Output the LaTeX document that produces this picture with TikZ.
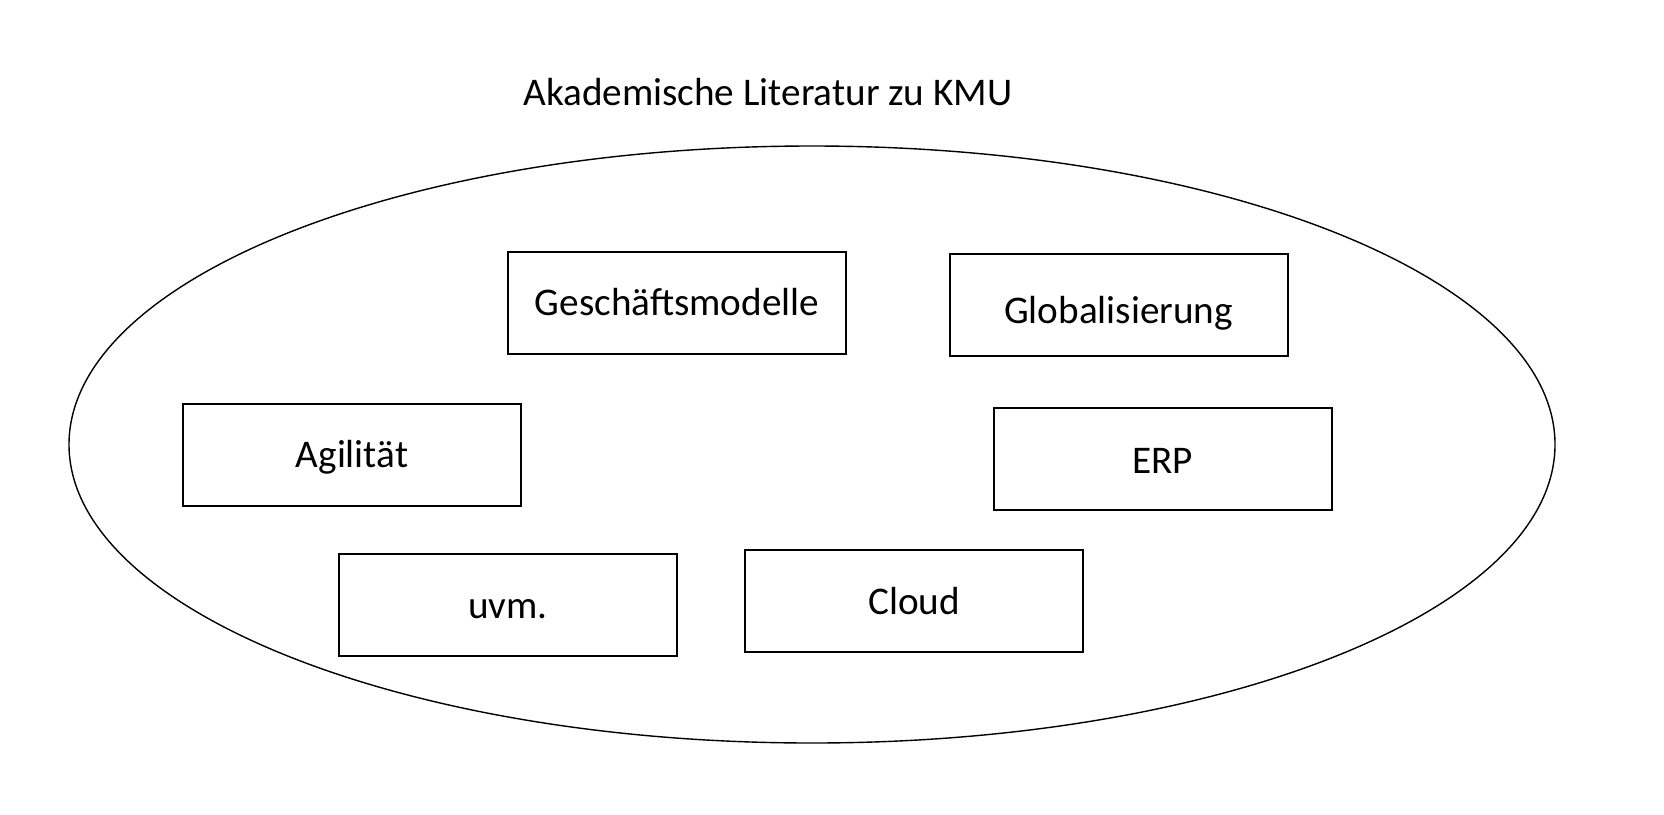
\documentclass[tikz,border=0pt]{standalone}
\usepackage{fontspec}
\setmainfont{Carlito}
\usetikzlibrary{shapes.geometric}
\begin{document}
\begin{tikzpicture}[x=0.5pt,y=-0.5pt,
  txt/.style={font=\fontsize{19.6}{23}\selectfont},
  topic/.style={txt, draw=black, line width=1pt, minimum width=169pt, minimum height=51pt, inner sep=0pt, text height=12.5pt, text depth=0pt},
  lbl/.style={txt, inner sep=0pt}]
\useasboundingbox (0,0) rectangle (1664,814);
\node[draw=black, line width=0.7pt, ellipse, minimum width=743pt, minimum height=298.5pt, inner sep=0pt] (ell) at (812,444.5) {};
\node[lbl, anchor=base west] (title) at (523,105) {Akademische Literatur zu KMU};
\node[topic, text height=12pt] (gm) at (677,303) {Geschäftsmodelle};
\node[topic, text height=18pt] (gl) at (1118.5,305) {Globalisierung};
\node[topic, text height=12pt] (ag) at (352,455) {Agilität};
\node[topic, text height=14.5pt] (erp) at (1162.5,458.5) {ERP};
\node[topic, text height=13pt] (uvm) at (508,605) {uvm.};
\node[topic, text height=13pt] (cl) at (914,601) {Cloud};
\end{tikzpicture}
\end{document}
